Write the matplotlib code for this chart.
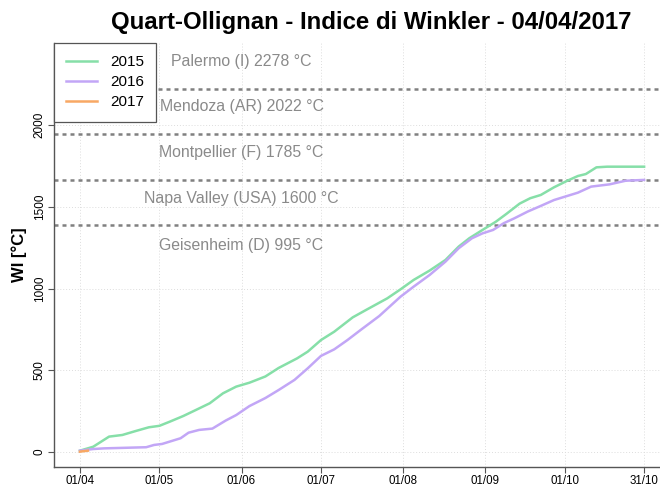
import matplotlib
matplotlib.use("Agg")
import matplotlib.pyplot as plt
import numpy as np

# ---- data (days since 01/04) ----
days_2015 = [0, 5, 11, 16, 21, 26, 30, 34, 39, 43, 49, 54, 59, 64, 70, 75, 82, 86, 91, 96,
             103, 108, 116, 121, 126, 132, 138, 143, 147, 152, 157, 161, 166, 170, 174, 179,
             184, 188, 191, 195, 199, 213]
wi_2015 = [8, 32, 94, 104, 128, 151, 160, 186, 220, 251, 298, 359, 400, 424, 462, 514, 573, 614, 685, 736,
           824, 869, 940, 995, 1053, 1110, 1175, 1257, 1308, 1359, 1409, 1457, 1520, 1553, 1573, 1620,
           1660, 1689, 1701, 1742, 1746, 1746]
days_2016 = [0, 5, 9, 25, 28, 31, 38, 41, 45, 50, 55, 59, 64, 70, 75, 81, 86, 91, 96, 101,
             106, 113, 121, 126, 132, 138, 143, 148, 152, 156, 160, 164, 169, 174, 179, 188,
             193, 200, 206, 213]
wi_2016 = [8, 18, 22, 29, 43, 49, 84, 118, 135, 143, 192, 226, 281, 330, 379, 441, 512, 588, 628, 685,
           747, 832, 950, 1012, 1083, 1165, 1247, 1308, 1338, 1359, 1400, 1430, 1471, 1506, 1542, 1587,
           1624, 1638, 1660, 1665]
days_2017 = [0, 1, 2, 3]
wi_2017 = [2, 4, 6, 8]

years = ["2015", "2016", "2017"]
colors = ["#86dfa8", "#c2a6f6", "#f8a864"]

xtick_days = [0, 30, 61, 91, 122, 153, 183, 213]
xtick_labels = ["01/04", "01/05", "01/06", "01/07", "01/08", "01/09", "01/10", "31/10"]
yticks = [0, 500, 1000, 1500, 2000]

region_limits = [1389, 1667, 1944, 2222]
ref_labels = ["Palermo (I) 2278 °C", "Mendoza (AR) 2022 °C", "Montpellier (F) 1785 °C",
              "Napa Valley (USA) 1600 °C", "Geisenheim (D) 995 °C"]
ref_label_y = [2390, 2112, 1830, 1554, 1261]
ref_label_x = 61

title = "Quart-Ollignan - Indice di Winkler - 04/04/2017"

plt.rcParams['font.family'] = ['Liberation Sans', 'DejaVu Sans']

fig = plt.figure(figsize=(6.6, 4.86), dpi=100)
ax = fig.add_axes([54/660, 19/486, 606/660, 424/486])
ax.set_xlim(-9.8, 219.0)
ax.set_ylim(-92, 2503)

# grid
for d in xtick_days:
    ax.axvline(d, color="#dddddd", lw=0.7, ls=(0, (1, 2)), zorder=0)
for v in yticks:
    ax.axhline(v, color="#dddddd", lw=0.7, ls=(0, (1, 2)), zorder=0)

for v in region_limits:
    ax.axhline(v, color="#808080", lw=1.8, ls=(0, (1.6, 1.6)), zorder=1)

for t, yv in zip(ref_labels, ref_label_y):
    ax.text(ref_label_x, yv, t, ha="center", va="center", color="#8a8a8a", fontsize=11.4)

for d, w, c, lab in zip([days_2015, days_2016, days_2017], [wi_2015, wi_2016, wi_2017], colors, years):
    ax.plot(d, w, color=c, lw=1.8, label=lab, zorder=3)

ax.set_xticks(xtick_days)
ax.set_xticklabels(xtick_labels, fontsize=8.3)
ax.set_yticks(yticks)
ax.set_yticklabels([str(v) for v in yticks], fontsize=8.5, rotation=90, va="center")
ax.tick_params(axis="both", direction="out", length=4, width=0.8, color="#555555")
ax.tick_params(axis="x", pad=1.5)
ax.tick_params(axis="y", pad=2)
for s in ["top", "right"]:
    ax.spines[s].set_visible(False)
for s in ["left", "bottom"]:
    ax.spines[s].set_color("#555555")
    ax.spines[s].set_linewidth(1.0)

ax.set_ylabel("WI [°C]", fontsize=12, fontweight="bold", labelpad=5)

leg = ax.legend(loc="upper left", bbox_to_anchor=(0.0, 1.0), borderaxespad=0, fancybox=False,
                framealpha=1, edgecolor="#555555", fontsize=11, handlelength=2.0,
                handletextpad=0.85, labelspacing=0.4, borderpad=0.8)
leg.get_frame().set_linewidth(0.9)
leg.set_zorder(5)

fig.text(0.562, 1 - 22/486, title, ha="center", va="center", fontsize=17.3, fontweight="bold")

fig.savefig("out.png", dpi=100)
